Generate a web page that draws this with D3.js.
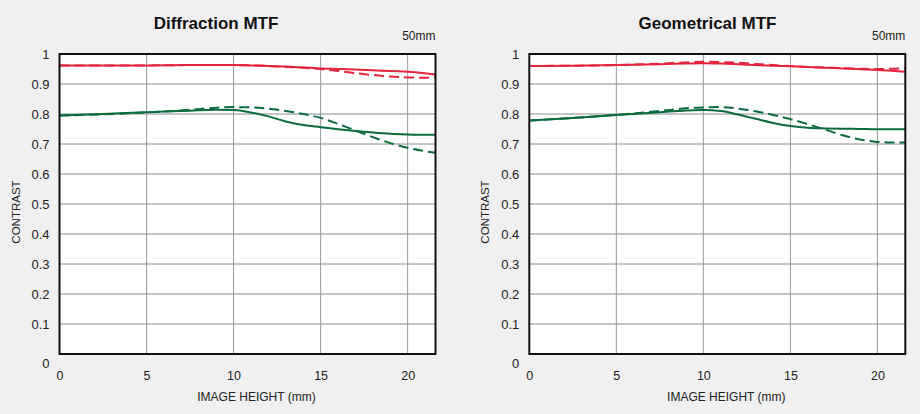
<!DOCTYPE html>
<html>
<head>
<meta charset="UTF-8">
<title>MTF</title>
<script src="https://d3js.org/d3.v7.min.js"></script>
<style>
  body { margin: 0; background: #f0f0f0; }
  svg { display: block; font-family: "Liberation Sans", Arial, sans-serif; }
</style>
</head>
<body>
<script>
// image height sample points (mm)
var heights = [0, 2.5, 5, 7.5, 9, 10, 11, 12, 13, 14, 15, 16, 17, 18, 19, 20, 21, 21.6];

// Diffraction MTF
var diffRedSolid   = [.962, .962, .962, .963, .963, .963, .962, .960, .958, .955, .952, .950, .948, .946, .943, .941, .936, .932];
var diffRedDash    = [.962, .962, .962, .963, .963, .963, .962, .960, .957, .954, .950, .943, .936, .930, .925, .922, .921, .922];
var diffGreenSolid = [.795, .800, .806, .811, .814, .813, .805, .792, .775, .763, .756, .749, .743, .738, .734, .732, .731, .731];
var diffGreenDash  = [.795, .799, .805, .814, .821, .823, .822, .818, .810, .800, .787, .767, .745, .723, .703, .687, .676, .671];

// Geometrical MTF
var geoRedSolid   = [.960, .961, .963, .966, .968, .969, .968, .966, .963, .961, .959, .957, .954, .952, .949, .947, .943, .941];
var geoRedDash    = [.960, .961, .963, .968, .972, .974, .973, .971, .967, .963, .960, .957, .955, .953, .951, .950, .951, .953];
var geoGreenSolid = [.778, .787, .797, .806, .812, .813, .810, .798, .784, .770, .760, .754, .752, .751, .750, .749, .749, .749];
var geoGreenDash  = [.778, .787, .797, .810, .819, .822, .823, .818, .809, .797, .783, .766, .748, .729, .715, .707, .705, .705];

var xTicks = [0, 5, 10, 15, 20];
var yTicks = [0, 0.1, 0.2, 0.3, 0.4, 0.5, 0.6, 0.7, 0.8, 0.9, 1];
var xMax = 21.6;

var RED = "#e3243d", GREEN = "#0b6a3e";

var svg = d3.select("body").append("svg")
  .attr("width", 920)
  .attr("height", 414);

function drawPanel(opt) {
  var x = d3.scaleLinear().domain([0, xMax]).range([opt.left, opt.left + 376]);
  var y = d3.scaleLinear().domain([0, 1]).range([354, 54]);
  var g = svg.append("g");

  g.append("rect")
    .attr("x", x(0)).attr("y", y(1))
    .attr("width", x(xMax) - x(0)).attr("height", y(0) - y(1))
    .attr("fill", "#fff");

  // grid
  g.append("g").selectAll("line").data(xTicks.slice(1)).enter().append("line")
    .attr("x1", d => x(d)).attr("x2", d => x(d))
    .attr("y1", y(0)).attr("y2", y(1))
    .attr("stroke", "#9a9a9a").attr("stroke-width", 1);
  g.append("g").selectAll("line").data(yTicks.slice(1, -1)).enter().append("line")
    .attr("x1", x(0)).attr("x2", x(xMax))
    .attr("y1", d => y(d)).attr("y2", d => y(d))
    .attr("stroke", "#8c8c8c").attr("stroke-width", 1);

  var clipId = "clip" + opt.left;
  g.append("clipPath").attr("id", clipId).append("rect")
    .attr("x", x(0)).attr("y", y(1))
    .attr("width", x(xMax) - x(0)).attr("height", y(0) - y(1));

  var line = d3.line()
    .x((d, i) => x(heights[i]))
    .y(d => y(d))
    .curve(d3.curveMonotoneX);

  var lines = g.append("g").attr("clip-path", "url(#" + clipId + ")");
  opt.series.forEach(function (s) {
    lines.append("path")
      .attr("d", line(s.values))
      .attr("fill", "none")
      .attr("stroke", s.color)
      .attr("stroke-width", 2)
      .attr("stroke-dasharray", s.dash ? "10,5" : null);
  });

  // frame
  g.append("rect")
    .attr("x", x(0)).attr("y", y(1))
    .attr("width", x(xMax) - x(0)).attr("height", y(0) - y(1))
    .attr("fill", "none").attr("stroke", "#111").attr("stroke-width", 2);

  // axes (labels only)
  var yAxis = g.append("g")
    .attr("transform", "translate(" + (x(0) - 7) + ",0)")
    .call(d3.axisLeft(y).tickValues(yTicks).tickSize(0)
      .tickFormat(d => d === 0 || d === 1 ? d3.format("d")(d) : d3.format(".1f")(d)));
  yAxis.select(".domain").remove();
  yAxis.selectAll("text")
    .attr("font-size", 13).attr("fill", "#222")
    .attr("font-family", null)
    .attr("dy", d => d === 0 ? "1.0em" : "0.36em");

  var xAxis = g.append("g")
    .attr("transform", "translate(0," + (y(0) + 14) + ")")
    .call(d3.axisBottom(x).tickValues(xTicks).tickSize(0).tickFormat(d3.format("d")));
  xAxis.select(".domain").remove();
  xAxis.selectAll("text")
    .attr("font-size", 12.5).attr("fill", "#222").attr("font-family", null);

  g.append("text")
    .attr("x", opt.titleX).attr("y", 29)
    .attr("text-anchor", "middle")
    .attr("font-size", 17).attr("font-weight", "bold").attr("fill", "#111")
    .text(opt.title);

  g.append("text")
    .attr("x", x(xMax)).attr("y", 40)
    .attr("text-anchor", "end")
    .attr("font-size", 12).attr("fill", "#222")
    .text("50mm");

  g.append("text")
    .attr("x", (x(0) + x(xMax)) / 2 + 9).attr("y", 401)
    .attr("text-anchor", "middle")
    .attr("font-size", 12).attr("fill", "#222")
    .text("IMAGE HEIGHT (mm)");

  g.append("text")
    .attr("transform", "translate(" + (x(0) - 40) + "," + ((y(0) + y(1)) / 2 + 8) + ") rotate(-90)")
    .attr("text-anchor", "middle")
    .attr("font-size", 11.5).attr("fill", "#222")
    .text("CONTRAST");
}

drawPanel({
  left: 59.5, titleX: 216, title: "Diffraction MTF",
  series: [
    { values: diffRedSolid, color: RED, dash: false },
    { values: diffRedDash, color: RED, dash: true },
    { values: diffGreenSolid, color: GREEN, dash: false },
    { values: diffGreenDash, color: GREEN, dash: true }
  ]
});

drawPanel({
  left: 529.3, titleX: 707.5, title: "Geometrical MTF",
  series: [
    { values: geoRedSolid, color: RED, dash: false },
    { values: geoRedDash, color: RED, dash: true },
    { values: geoGreenSolid, color: GREEN, dash: false },
    { values: geoGreenDash, color: GREEN, dash: true }
  ]
});
</script>
</body>
</html>
